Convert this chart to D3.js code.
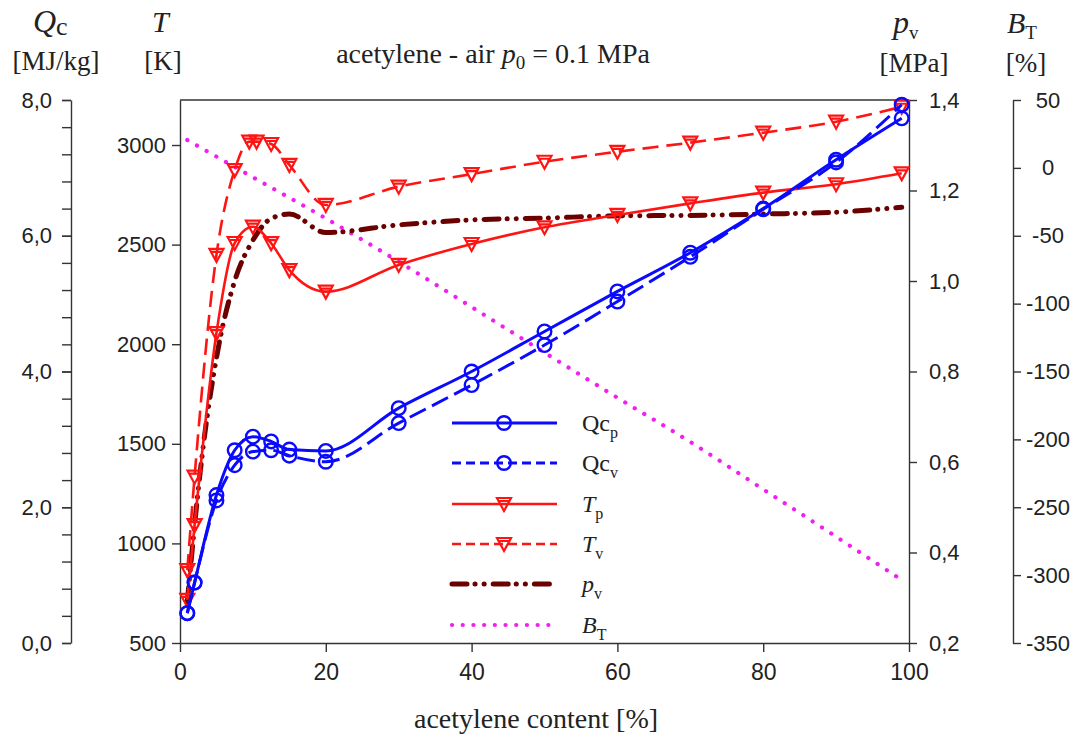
<!DOCTYPE html>
<html><head><meta charset="utf-8">
<script src="https://cdn.jsdelivr.net/npm/d3@7"></script>
<style>
body{margin:0;background:#fff;}
svg{display:block;}
.tick text{font-family:"Liberation Sans",Arial,sans-serif;font-size:22px;fill:#222;}
.serif{font-family:"Liberation Serif","Times New Roman",serif;fill:#222;}
</style></head>
<body>
<svg id="chart" width="1083" height="738"></svg>
<script>
// ---- data ----
const xQc = [1, 2, 5, 7.5, 10, 12.5, 15, 20, 30, 40, 50, 60, 70, 80, 90, 99];
const qcP = [0.44, 0.89, 2.18, 2.84, 3.04, 2.97, 2.85, 2.83, 3.46, 4.00, 4.59, 5.18, 5.75, 6.40, 7.12, 7.73];
const qcV = [0.44, 0.89, 2.10, 2.62, 2.82, 2.84, 2.76, 2.67, 3.24, 3.80, 4.39, 5.03, 5.69, 6.39, 7.08, 7.93];
const xTp = [1, 2, 5, 7.5, 10, 12.5, 15, 20, 30, 40, 50, 60, 70, 80, 90, 99];
const tP  = [716, 1092, 2056, 2508, 2590, 2507, 2372, 2264, 2398, 2503, 2587, 2649, 2707, 2761, 2803, 2858];
const xTv = [1, 2, 5, 7.5, 9.5, 10.5, 12.5, 15, 20, 30, 40, 50, 60, 70, 80, 90, 99];
const tV  = [866, 1335, 2448, 2874, 3017, 3017, 3005, 2900, 2699, 2791, 2854, 2916, 2966, 3012, 3062, 3117, 3192];
const xPv = [1, 2, 3, 5, 7.5, 10, 12.5, 15, 20, 30, 40, 50, 60, 70, 80, 90, 99];
const pV  = [0.29, 0.46, 0.61, 0.83, 1.00, 1.09, 1.138, 1.148, 1.107, 1.124, 1.135, 1.139, 1.144, 1.145, 1.148, 1.152, 1.163];
const xBt = [1, 10, 20, 30, 40, 50, 60, 70, 80, 90, 99];
const bT  = [20.5, -6.9, -37.2, -69.1, -102.5, -136.1, -169.3, -201.9, -236.8, -271.7, -303.6];
const xTicks = [0, 20, 40, 60, 80, 100];
const qcTicks = [0, 2, 4, 6, 8];
const tTicks = [500, 1000, 1500, 2000, 2500, 3000];
const pTicks = [0.2, 0.4, 0.6, 0.8, 1.0, 1.2, 1.4];
const bTicks = [-350, -300, -250, -200, -150, -100, -50, 0, 50];

// ---- layout ----
const L = 180, R = 909, T0 = 100, B0 = 643;
const svg = d3.select("#chart");
const x  = d3.scaleLinear().domain([0, 100]).range([L, R]);
const yQ = d3.scaleLinear().domain([0, 8]).range([B0, T0]);
const yT = d3.scaleLinear().domain([500, 3226]).range([B0, T0]);
const yP = d3.scaleLinear().domain([0.2, 1.4]).range([B0, T0]);
const yB = d3.scaleLinear().domain([-350, 50]).range([B0, T0]);
const comma = d => d3.format(".1f")(d).replace(".", ",");
const plain = d => String(d);

const BLUE = "#0a0aff", RED = "#ff1414", DRED = "#6b0000", MAG = "#f020f0";

function styleAxis(g){
  g.selectAll("path.domain").attr("stroke", "#333").attr("stroke-width", 1.4);
  g.selectAll(".tick line").attr("stroke", "#333").attr("stroke-width", 1.4);
}

// Qc axis
const gq = svg.append("g").attr("transform", "translate(71,0)")
  .call(d3.axisLeft(yQ).tickValues(d3.range(0, 8.01, 0.4)).tickFormat("").tickSize(9).tickSizeOuter(0));
styleAxis(gq);
const gq2 = svg.append("g").attr("transform", "translate(71,0)")
  .call(d3.axisLeft(yQ).tickValues(qcTicks).tickFormat(comma).tickSize(9).tickSizeOuter(0).tickPadding(10));
styleAxis(gq2);
gq2.select("path.domain").remove();

// T axis (left frame)
const gt = svg.append("g").attr("transform", `translate(${L},0)`)
  .call(d3.axisLeft(yT).tickValues(tTicks).tickFormat(plain).tickSize(8).tickSizeOuter(0).tickPadding(6));
styleAxis(gt);

// x axis
const gx = svg.append("g").attr("transform", `translate(0,${B0})`)
  .call(d3.axisBottom(x).tickValues(xTicks).tickFormat(plain).tickSize(9).tickSizeOuter(0).tickPadding(12));
styleAxis(gx);
gx.selectAll(".tick text").style("font-size", "23px");
// top frame
svg.append("line").attr("x1", L).attr("x2", R).attr("y1", T0).attr("y2", T0)
  .attr("stroke", "#333").attr("stroke-width", 1.4);

// p axis (right frame)
const gp = svg.append("g").attr("transform", `translate(${R},0)`)
  .call(d3.axisRight(yP).tickValues(pTicks).tickFormat(comma).tickSize(8).tickSizeOuter(0).tickPadding(12));
styleAxis(gp);

// B_T axis
const gb = svg.append("g").attr("transform", "translate(1013,0)")
  .call(d3.axisRight(yB).tickValues(bTicks).tickFormat(plain).tickSize(8).tickSizeOuter(0));
styleAxis(gb);
gb.selectAll(".tick text").attr("text-anchor", "middle").attr("x", 35);

// ---- series ----
const curve = d3.curveMonotoneX;
function drawLine(xs, ys, yScale, color, width, dash){
  const pts = xs.map((v, i) => [x(v), yScale(ys[i])]);
  svg.append("path").attr("d", d3.line().curve(curve)(pts))
    .attr("fill", "none").attr("stroke", color).attr("stroke-width", width)
    .attr("stroke-dasharray", dash || null).attr("stroke-linecap", dash && dash.includes("0.1") ? "round" : "butt");
}
const triPath = "M-7,-6L7,-6L0,7Z M-4.5,-3L4.5,-3";
function circles(xs, ys, yScale){
  svg.append("g").selectAll("circle").data(xs).join("circle")
    .attr("cx", d => x(d)).attr("cy", (d, i) => yScale(ys[i])).attr("r", 6.8)
    .attr("fill", "none").attr("stroke", BLUE).attr("stroke-width", 2.4);
}
function tris(xs, ys, yScale){
  svg.append("g").selectAll("path").data(xs).join("path")
    .attr("transform", (d, i) => `translate(${x(d)},${yScale(ys[i])})`)
    .attr("d", triPath).attr("fill", "none").attr("stroke", RED).attr("stroke-width", 2.2);
}

drawLine(xBt, bT, yB, MAG, 4.2, "0.1,11");
drawLine(xPv, pV, yP, DRED, 5, "15,8,0.1,9,0.1,9");
drawLine(xTp, tP, yT, RED, 2.6);
drawLine(xTv, tV, yT, RED, 2.6, "16,8");
tris(xTp, tP, yT);
tris(xTv, tV, yT);
drawLine(xQc, qcP, yQ, BLUE, 3);
drawLine(xQc, qcV, yQ, BLUE, 3, "18,7");
circles(xQc, qcP, yQ);
circles(xQc, qcV, yQ);

// ---- legend ----
const legend = [
  {name: "Qc", it: false, sub: "p", color: BLUE, w: 3, dash: null, mk: "c"},
  {name: "Qc", it: false, sub: "v", color: BLUE, w: 3, dash: "9,5", mk: "c"},
  {name: "T", it: true, sub: "p", color: RED, w: 2.6, dash: null, mk: "t"},
  {name: "T", it: true, sub: "v", color: RED, w: 2.6, dash: "9,5", mk: "t"},
  {name: "p", it: true, sub: "v", color: DRED, w: 5, dash: "15,8,0.1,9,0.1,9", mk: null},
  {name: "B", it: true, sub: "T", color: MAG, w: 4.2, dash: "0.1,10.6", mk: null}
];
const legY = [423, 463, 504, 544, 584, 625];
legend.forEach((e, i) => {
  const y = legY[i];
  svg.append("line").attr("x1", 452).attr("x2", 557).attr("y1", y).attr("y2", y)
    .attr("stroke", e.color).attr("stroke-width", e.w)
    .attr("stroke-dasharray", e.dash).attr("stroke-linecap", e.dash && e.dash.includes("0.1") ? "round" : "butt");
  if (e.mk === "c") svg.append("circle").attr("cx", 504).attr("cy", y).attr("r", 6.8)
    .attr("fill", "none").attr("stroke", BLUE).attr("stroke-width", 2.4);
  if (e.mk === "t") svg.append("path").attr("transform", `translate(504,${y})`).attr("d", triPath)
    .attr("fill", "none").attr("stroke", RED).attr("stroke-width", 2.2);
  const t = svg.append("text").attr("class", "serif").attr("x", 582).attr("y", y + 8).style("font-size", "24px");
  t.append("tspan").text(e.name).style("font-style", e.it ? "italic" : "normal");
  t.append("tspan").text(e.sub).attr("dy", 7).style("font-size", "16px");
});

// ---- headers & titles ----
function header(xp, yp, main, sub, mainSize, subSize, subDy){
  const t = svg.append("text").attr("class", "serif").attr("x", xp).attr("y", yp);
  t.append("tspan").text(main).style("font-style", "italic").style("font-size", mainSize + "px");
  t.append("tspan").text(sub).attr("dy", subDy).style("font-size", subSize + "px");
  return t;
}
header(33, 32, "Q", "c", 32, 26, 3);
svg.append("text").attr("class", "serif").attr("x", 56).attr("y", 70).attr("text-anchor", "middle")
  .style("font-size", "27px").text("[MJ/kg]");
header(152, 32, "T", "", 30, 20, 0);
svg.append("text").attr("class", "serif").attr("x", 163).attr("y", 70).attr("text-anchor", "middle")
  .style("font-size", "27px").text("[K]");
header(893, 33, "p", "v", 32, 19, 6);
svg.append("text").attr("class", "serif").attr("x", 914).attr("y", 72).attr("text-anchor", "middle")
  .style("font-size", "27px").text("[MPa]");
header(1007, 33, "B", "T", 30, 19, 6);
svg.append("text").attr("class", "serif").attr("x", 1026).attr("y", 72).attr("text-anchor", "middle")
  .style("font-size", "27px").text("[%]");

const title = svg.append("text").attr("class", "serif").attr("x", 493).attr("y", 63)
  .attr("text-anchor", "middle").style("font-size", "28px");
title.append("tspan").text("acetylene - air ");
title.append("tspan").text("p").style("font-style", "italic");
title.append("tspan").text("0").attr("dy", 6).style("font-size", "19px");
title.append("tspan").text(" = 0.1 MPa").attr("dy", -6);

svg.append("text").attr("class", "serif").attr("x", 536).attr("y", 728).attr("text-anchor", "middle")
  .style("font-size", "28px").text("acetylene content [%]");
</script>
</body></html>
